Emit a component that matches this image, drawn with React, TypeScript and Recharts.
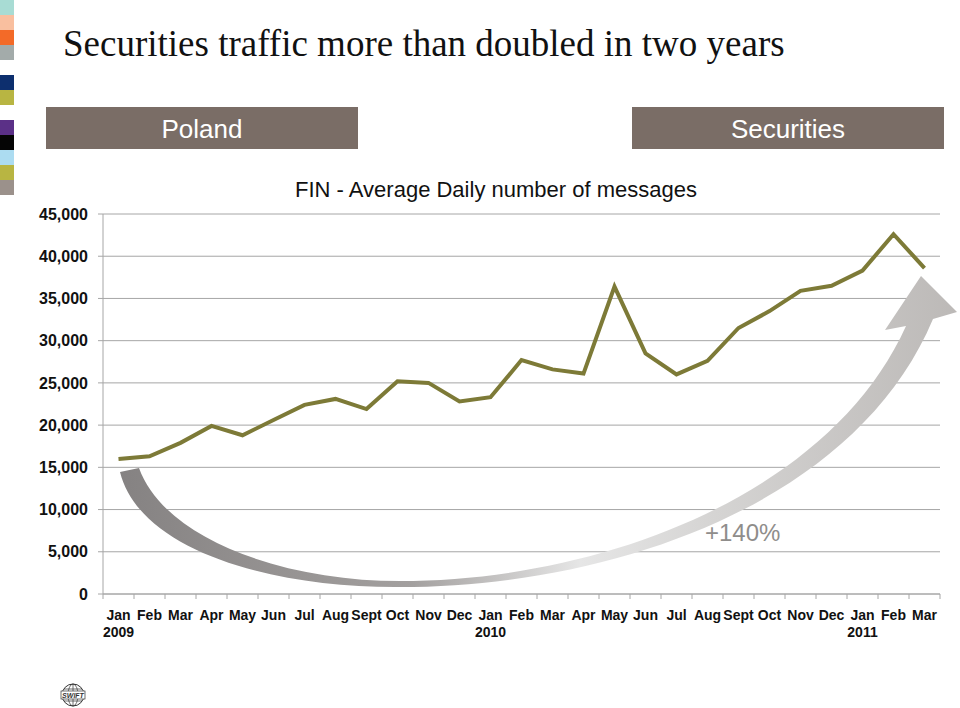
import React from 'react';
import { LineChart, Line, XAxis, YAxis, CartesianGrid } from 'recharts';

const months = ['Jan','Feb','Mar','Apr','May','Jun','Jul','Aug','Sept','Oct','Nov','Dec','Jan','Feb','Mar','Apr','May','Jun','Jul','Aug','Sept','Oct','Nov','Dec','Jan','Feb','Mar'];
const years = ['2009','','','','','','','','','','','','2010','','','','','','','','','','','','2011','',''];
const messages = [16000,16300,17900,19900,18800,20600,22400,23100,21900,25200,25000,22800,23300,27700,26600,26100,36400,28500,26000,27600,31500,33500,35900,36500,38300,42600,38600];
const yTicks = [0,5000,10000,15000,20000,25000,30000,35000,40000,45000];

const data = months.map((m, i) => ({ key: `${m}-${i}`, month: m, year: years[i], value: messages[i] }));

const stripColors = ['#a8dcd4','#f9bf9f','#f36a28','#a3abaa','#ffffff','#0d2f6e','#b8b542','#ffffff','#5b3087','#050505','#acdcf1','#b8b542','#9b918b'];

const FONT = '"Liberation Sans", Arial, Helvetica, sans-serif';
const GRID = '#a6a6a6';

const XTick = (props: any) => {
  const { x, y, payload, index } = props;
  const off = payload && typeof payload.offset === 'number' && payload.offset > 0 ? payload.offset : 15.5;
  const i = typeof payload?.index === 'number' ? payload.index : index;
  const d = data[i] || { month: payload.value, year: '' };
  const isLast = i === data.length - 1;
  return (
    <g>
      <line x1={x - off} x2={x - off} y1={y - 5} y2={y} stroke={GRID} strokeWidth={1} />
      {isLast && <line x1={x + off} x2={x + off} y1={y - 5} y2={y} stroke={GRID} strokeWidth={1} />}
      <text x={x} y={y + 21} textAnchor="middle" fontFamily={FONT} fontWeight="bold" fontSize={14} fill="#111">{d.month}</text>
      {d.year && <text x={x} y={y + 38} textAnchor="middle" fontFamily={FONT} fontWeight="bold" fontSize={14} fill="#111">{d.year}</text>}
    </g>
  );
};

export default function App() {
  return (
    <div style={{ position: 'absolute', left: 0, top: 0, width: 960, height: 708, background: '#fff', overflow: 'hidden' }}>
      {stripColors.map((c, i) => (
        <div key={i} style={{ position: 'absolute', left: 0, top: i * 15, width: 14, height: 15, background: c }} />
      ))}
      <div style={{ position: 'absolute', left: 63, top: 24, fontFamily: '"Liberation Serif", "Times New Roman", serif', fontSize: 37, color: '#111', whiteSpace: 'nowrap', lineHeight: '40px' }}>
        Securities traffic more than doubled in two years
      </div>
      <div style={{ position: 'absolute', left: 46, top: 107, width: 312, height: 42, background: '#7a6d66', color: '#fff', fontFamily: FONT, fontSize: 26, textAlign: 'center', lineHeight: '44px' }}>Poland</div>
      <div style={{ position: 'absolute', left: 632, top: 107, width: 312, height: 42, background: '#7a6d66', color: '#fff', fontFamily: FONT, fontSize: 26, textAlign: 'center', lineHeight: '44px' }}>Securities</div>
      <div style={{ position: 'absolute', left: 0, top: 176, width: 992, textAlign: 'center', fontFamily: FONT, fontSize: 22, color: '#111', lineHeight: '28px' }}>FIN - Average Daily number of messages</div>

      <div style={{ position: 'absolute', left: 0, top: 0 }}>
        <LineChart width={960} height={708} data={data} margin={{ top: 214, right: 20, bottom: 54, left: 33 }}>
          <CartesianGrid vertical={false} stroke={GRID} strokeWidth={1} />
          <XAxis dataKey="key" scale="band" interval={0} height={60} tickSize={5} tickMargin={0} tickLine={false} axisLine={{ stroke: GRID }} tick={<XTick />} />
          <YAxis width={70} domain={[0, 45000]} ticks={yTicks} interval={0} tickSize={5} tickMargin={10}
            tickLine={{ stroke: GRID }} axisLine={{ stroke: GRID }}
            tickFormatter={(v: number) => v.toLocaleString('en-US')}
            tick={{ fontFamily: FONT, fontWeight: 'bold', fontSize: 16, fill: '#111' }} />
          <Line type="linear" dataKey="value" stroke="#7d7a37" strokeWidth={4} dot={false} isAnimationActive={false} />
        </LineChart>
      </div>

      <svg width={960} height={708} style={{ position: 'absolute', left: 0, top: 0, pointerEvents: 'none' }}>
        <defs>
          <linearGradient id="arrowGrad" gradientUnits="userSpaceOnUse" x1={119} y1={0} x2={958} y2={0}>
            <stop offset="0%" stopColor="#858282" />
            <stop offset="35%" stopColor="#a3a09f" />
            <stop offset="55%" stopColor="#e6e6e6" />
            <stop offset="70%" stopColor="#d6d5d4" />
            <stop offset="100%" stopColor="#bcb9b7" />
          </linearGradient>
        </defs>
        <path
          d="M 120 472 C 140 552, 275 588, 400 587 C 610 587, 855 505, 933 319 L 957 312 L 921 276 L 885 330 L 906 326 C 830 495, 600 581, 400 581 C 285 581, 165 540, 139 468 Z"
          fill="url(#arrowGrad)"
        />
        <text x={705} y={541} fontFamily={FONT} fontSize={24} fill="#8f8d8b">+140%</text>
        <g transform="translate(73,695)">
          <circle r={11} fill="#fff" stroke="#333" strokeWidth={1} />
          <ellipse rx={5} ry={11} fill="none" stroke="#333" strokeWidth={0.7} />
          <line x1={0} y1={-11} x2={0} y2={11} stroke="#333" strokeWidth={0.7} />
          <line x1={-9} y1={-6} x2={9} y2={-6} stroke="#333" strokeWidth={0.7} />
          <line x1={-9} y1={6} x2={9} y2={6} stroke="#333" strokeWidth={0.7} />
          <rect x={-12} y={-4} width={24} height={8} fill="#fff" stroke="#333" strokeWidth={0.7} />
          <text x={0} y={3} textAnchor="middle" fontFamily={FONT} fontStyle="italic" fontWeight="bold" fontSize={7} fill="#333">SWIFT</text>
        </g>
      </svg>
    </div>
  );
}
